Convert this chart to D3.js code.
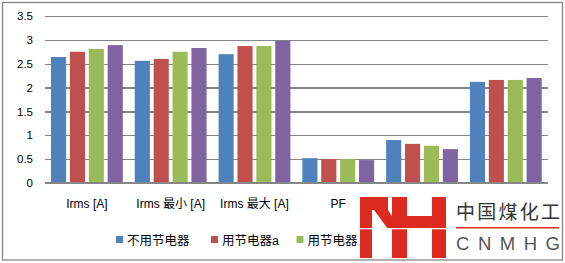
<!DOCTYPE html>
<html>
<head>
<meta charset="utf-8">
<script src="https://cdn.jsdelivr.net/npm/d3@7"></script>
<style>
  body { margin: 0; background: #fff; }
  svg text { font-family: "Liberation Sans", Arial, "Noto Sans CJK SC", sans-serif; }
</style>
</head>
<body>
<div id="grafico"></div>
<script>
var categorias = ["Irms [A]", "Irms 最小 [A]", "Irms 最大 [A]", "PF", "", ""];
var series = ["不用节电器", "用节电器a", "用节电器b", "用节电器c"];
var cores = ["#4f81bd", "#c0504d", "#9bbb59", "#8064a2"];
var semNodo = [2.64, 2.56, 2.70, 0.52, 0.90, 2.12];
var nodoA = [2.75, 2.60, 2.87, 0.50, 0.82, 2.16];
var nodoB = [2.81, 2.75, 2.87, 0.50, 0.78, 2.16];
var nodoC = [2.89, 2.83, 2.98, 0.48, 0.71, 2.20];
var valores = [semNodo, nodoA, nodoB, nodoC];
var ticksY = [0, 0.5, 1, 1.5, 2, 2.5, 3, 3.5];

var width = 565;
var height = 263;
var svg = d3.select("#grafico")
    .append("svg")
    .attr("width", width)
    .attr("height", height);

// moldura
svg.append("rect")
    .attr("x", 2.5).attr("y", 2.5)
    .attr("width", 560).attr("height", 257.5)
    .attr("fill", "#fff")
    .attr("stroke", "#868686")
    .attr("stroke-width", 1.3);

var x0 = d3.scaleBand().domain(categorias.map((c, i) => i)).range([45, 547.7]);
var x1 = d3.scaleBand().domain(series).range([6, x0.bandwidth() - 6]).paddingInner(0.2);
var y = d3.scaleLinear().domain([0, 3.5]).range([183, 16]);

// linhas de grade + eixo y
var eixoY = svg.append("g")
    .attr("transform", "translate(45,0)")
    .call(d3.axisLeft(y).tickValues(ticksY).tickSize(-502.7).tickPadding(12).tickFormat(d3.format("")));
eixoY.select(".domain").remove();
eixoY.selectAll("line").attr("stroke", "#868686").attr("stroke-width", 1.3).attr("shape-rendering", "crispEdges");
eixoY.selectAll("text").attr("font-size", 11.5).attr("fill", "#000");

// barras
var grupos = svg.append("g").selectAll("g")
    .data(categorias)
    .enter().append("g")
    .attr("transform", (d, i) => "translate(" + x0(i) + ",0)");

grupos.selectAll("rect")
    .data((d, i) => series.map((s, k) => ({ s: s, v: valores[k][i], k: k })))
    .enter().append("rect")
    .attr("x", d => x1(d.s))
    .attr("y", d => y(d.v))
    .attr("width", x1.bandwidth())
    .attr("height", d => y(0) - y(d.v))
    .attr("fill", d => cores[d.k]);

// linha do zero por cima
svg.append("line")
    .attr("x1", 45).attr("x2", 547.7)
    .attr("y1", y(0)).attr("y2", y(0))
    .attr("stroke", "#868686").attr("stroke-width", 1.3)
    .attr("shape-rendering", "crispEdges");

// rotulos das categorias
svg.append("g").selectAll("text")
    .data(categorias)
    .enter().append("text")
    .attr("x", (d, i) => x0(i) + x0.bandwidth() / 2)
    .attr("y", 208)
    .attr("text-anchor", "middle")
    .attr("font-size", 12)
    .text(d => d);

// legenda
var posLegenda = [116, 211, 296.5, 382];
var legenda = svg.append("g").selectAll("g")
    .data(series)
    .enter().append("g")
    .attr("transform", (d, i) => "translate(" + posLegenda[i] + ",236)");
legenda.append("rect")
    .attr("width", 7).attr("height", 7)
    .attr("fill", (d, i) => cores[i]);
legenda.append("text")
    .attr("x", 11).attr("y", 8.5)
    .attr("font-size", 12.5)
    .text(d => d);

// logotipo por cima
var logo = svg.append("g");
logo.append("rect")
    .attr("x", 358).attr("y", 193)
    .attr("width", 203).attr("height", 66)
    .attr("fill", "#fff");
var vermelho = "#dc2a20";
var pecas = [
    "M360,197 H372 V258 H360 Z",
    "M360,197 H388 V210 H360 Z",
    "M374,210 L388,210 L393,218 L393,229 L388,229 Z",
    "M392,197 H407 V258 H392 Z",
    "M407,216 H432 V228 H407 Z",
    "M432,197 H446 V258 H432 Z"
];
logo.selectAll("path")
    .data(pecas)
    .enter().append("path")
    .attr("d", d => d)
    .attr("fill", vermelho);
logo.append("rect")
    .attr("x", 359).attr("y", 228)
    .attr("width", 88).attr("height", 1.3)
    .attr("fill", "#fff");
logo.append("text")
    .attr("x", 456).attr("y", 219)
    .attr("font-size", 19)
    .attr("textLength", 104)
    .attr("lengthAdjust", "spacing")
    .attr("fill", "#333")
    .attr("font-family", "Noto Sans CJK SC")
    .text("中国煤化工");
logo.append("rect")
    .attr("x", 456).attr("y", 227)
    .attr("width", 103).attr("height", 1.5)
    .attr("fill", vermelho);
logo.append("text")
    .attr("x", 456).attr("y", 250)
    .attr("font-size", 18.5)
    .attr("textLength", 104)
    .attr("lengthAdjust", "spacing")
    .attr("fill", "#555")
    .text("CNMHG");
</script>
</body>
</html>
